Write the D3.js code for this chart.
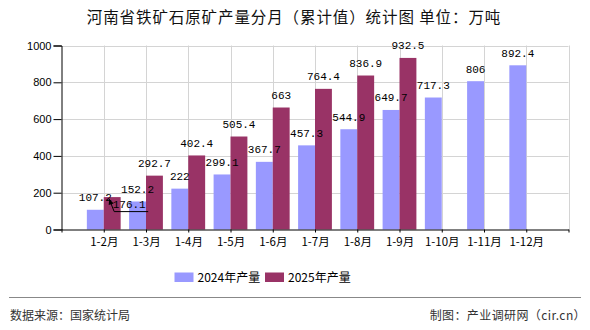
<!DOCTYPE html>
<html><head><meta charset="utf-8">
<script src="https://cdn.jsdelivr.net/npm/d3@7"></script>
<style>
body{margin:0;background:#fff;}
svg{display:block;}
</style></head>
<body>
<svg id="chart" width="590" height="330"></svg>
<script>
const categories = ["1-2月","1-3月","1-4月","1-5月","1-6月","1-7月","1-8月","1-9月","1-10月","1-11月","1-12月"];
const values2024 = [107.2,152.2,222,299.1,367.7,457.3,544.9,649.7,717.3,806,892.4];
const values2025 = [176.1,292.7,402.4,505.4,663,764.4,836.9,932.5,null,null,null];
const seriesNames = ["2024年产量","2025年产量"];
const yTicks = [0,200,400,600,800,1000];
const titleText = "河南省铁矿石原矿产量分月（累计值）统计图 单位：万吨";
const sourceText = "数据来源：国家统计局";
const creditText = "制图：产业调研网（cir.cn）";

const colors = ["#9999FF","#993366"];
const svg = d3.select("#chart");
const numFont = "'Liberation Mono','DejaVu Sans Mono',monospace";
const cjkFont = "'Noto Sans CJK SC','Noto Sans',sans-serif";

const x = d3.scaleLinear().domain([0, categories.length + 1]).range([61.5, 568.5]);
const y = d3.scaleLinear().domain([0, 1000]).range([229.5, 45.5]);
const step = x(1) - x(0);
const bw = step * 0.4;

// title
svg.append("text").attr("x", 294).attr("y", 23).attr("text-anchor","middle")
  .attr("font-family", cjkFont).attr("font-size", 15.5).attr("letter-spacing", 0.9)
  .attr("fill","#111").text(titleText);

// grid
const g = svg.append("g");
g.selectAll(".hg").data(yTicks.filter(d=>d>0)).join("line")
  .attr("x1", x(0)).attr("x2", x(categories.length+1))
  .attr("y1", d=>Math.round(y(d))+0.5).attr("y2", d=>Math.round(y(d))+0.5)
  .attr("stroke","#d4d4d4");
g.selectAll(".vg").data(d3.range(1, categories.length+2)).join("line")
  .attr("x1", d=>Math.round(x(d))+0.5).attr("x2", d=>Math.round(x(d))+0.5)
  .attr("y1", y(0)).attr("y2", y(1000))
  .attr("stroke","#d4d4d4");

// bars
const series = [values2024, values2025];
series.forEach((vals, s) => {
  svg.append("g").selectAll("rect").data(vals.map((v,i)=>({v,i})).filter(d=>d.v!=null)).join("rect")
    .attr("x", d => x(d.i+1) - bw + s*bw)
    .attr("width", bw)
    .attr("y", d => y(d.v))
    .attr("height", d => y(0) - y(d.v))
    .attr("fill", colors[s]);
});

// axes
const yAxis = d3.axisLeft(y).tickValues(yTicks).tickFormat(d3.format("d")).tickSize(8).tickPadding(2);
const ya = svg.append("g").attr("transform", `translate(${x(0)},0)`).call(yAxis);
ya.selectAll("text").attr("font-family","'Liberation Sans',Arial,sans-serif").attr("font-size",11).attr("fill","#000");
ya.selectAll("line,path").attr("stroke","#000");

const xAxis = d3.axisBottom(x).tickValues(d3.range(0, categories.length+2))
  .tickFormat(d => (d>=1 && d<=categories.length) ? categories[d-1] : "")
  .tickSize(3).tickSizeOuter(0).tickPadding(5);
const xa = svg.append("g").attr("transform", `translate(0,${y(0)})`).call(xAxis);
xa.selectAll("text").attr("font-family", cjkFont).attr("font-size",11.5).attr("fill","#000");
xa.selectAll("line,path").attr("stroke","#000");

// data labels
const calloutIdx = 0; // 2025 first value uses a leader line
series.forEach((vals, s) => {
  vals.forEach((v, i) => {
    if (v == null) return;
    const cx = x(i+1) - bw/2 + s*bw;
    if (s === 1 && i === calloutIdx) {
      const tipX = cx - 3, tipY = y(v) + 2;
      const elbowX = tipX + 5, elbowY = tipY + 12.5;
      svg.append("path").attr("d", `M${tipX},${tipY}L${elbowX},${elbowY}L${elbowX+34},${elbowY}`)
        .attr("fill","none").attr("stroke","#000").attr("stroke-width",1);
      svg.append("path").attr("d", `M${tipX},${tipY}l4.5,4.5l-5,1.5z`).attr("fill","#000");
      svg.append("text").attr("x", elbowX + 15).attr("y", elbowY - 3.5).attr("text-anchor","middle")
        .attr("font-family", numFont).attr("font-size", 11).attr("fill","#000").text(v);
      return;
    }
    svg.append("text").attr("x", cx).attr("y", y(v) - 8.5).attr("text-anchor","middle")
      .attr("font-family", numFont).attr("font-size", 11).attr("fill","#000").text(v);
  });
});

// legend
const lg = svg.append("g");
const legX = [174.5, 265];
seriesNames.forEach((n, s) => {
  lg.append("rect").attr("x", legX[s]).attr("y", 272.5).attr("width", 19).attr("height", 9.5).attr("fill", colors[s]);
  lg.append("text").attr("x", legX[s] + 23).attr("y", 281.5)
    .attr("font-family", cjkFont).attr("font-size", 12).attr("fill","#000").text(n);
});

// footer
svg.append("line").attr("x1", 9).attr("x2", 581).attr("y1", 297.5).attr("y2", 297.5)
  .attr("stroke","#888").attr("stroke-width",1.2);
svg.append("text").attr("x", 10).attr("y", 320).attr("font-family", cjkFont).attr("font-size", 12)
  .attr("fill","#333").text(sourceText);
svg.append("text").attr("x", 586).attr("y", 320).attr("text-anchor","end").attr("font-family", cjkFont).attr("font-size", 12)
  .attr("letter-spacing", 0.4).attr("fill","#333").text(creditText);
</script>
</body></html>
